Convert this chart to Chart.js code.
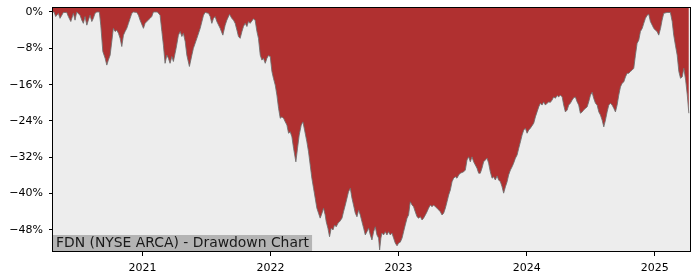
<!DOCTYPE html>
<html>
<head>
<meta charset="utf-8">
<script src="https://cdn.jsdelivr.net/npm/chart.js@4"></script>
<style>
html,body{margin:0;padding:0;background:#fff;}
#wrap{width:700px;height:280px;}
</style>
</head>
<body>
<div id="wrap"><canvas id="c" width="700" height="280"></canvas></div>
<script>
// Dates as decimal years
const dates = [
2020.302,2020.310,2020.323,2020.344,2020.357,2020.383,2020.409,2020.422,2020.441,2020.461,
2020.474,2020.487,2020.513,2020.527,2020.539,2020.552,2020.566,2020.578,2020.591,2020.605,
2020.617,2020.630,2020.644,2020.664,2020.675,2020.691,2020.709,2020.722,2020.734,2020.748,
2020.761,2020.773,2020.787,2020.800,2020.813,2020.826,2020.839,2020.852,2020.865,2020.878,
2020.891,2020.904,2020.917,2020.930,2020.956,2020.969,2020.982,2021.008,2021.021,2021.034,
2021.060,2021.073,2021.086,2021.117,2021.138,2021.152,2021.164,2021.177,2021.191,2021.203,
2021.216,2021.230,2021.242,2021.263,2021.281,2021.295,2021.308,2021.320,2021.334,2021.347,
2021.367,2021.386,2021.398,2021.425,2021.451,2021.477,2021.490,2021.516,2021.529,2021.542,
2021.555,2021.568,2021.581,2021.607,2021.628,2021.646,2021.659,2021.680,2021.698,2021.711,
2021.724,2021.738,2021.750,2021.763,2021.777,2021.789,2021.802,2021.816,2021.828,2021.841,
2021.867,2021.880,2021.894,2021.906,2021.920,2021.933,2021.945,2021.959,2021.972,2021.984,
2021.998,2022.011,2022.023,2022.037,2022.050,2022.063,2022.076,2022.089,2022.102,2022.115,
2022.128,2022.141,2022.154,2022.167,2022.180,2022.198,2022.211,2022.224,2022.240,2022.253,
2022.266,2022.284,2022.297,2022.310,2022.323,2022.336,2022.349,2022.362,2022.375,2022.388,
2022.402,2022.414,2022.427,2022.435,2022.448,2022.461,2022.474,2022.488,2022.500,2022.513,
2022.527,2022.539,2022.558,2022.570,2022.584,2022.597,2022.609,2022.623,2022.636,2022.648,
2022.662,2022.675,2022.688,2022.701,2022.714,2022.727,2022.740,2022.753,2022.766,2022.779,
2022.792,2022.805,2022.818,2022.831,2022.844,2022.852,2022.862,2022.870,2022.883,2022.896,
2022.909,2022.922,2022.935,2022.948,2022.961,2022.974,2022.988,2023.000,2023.013,2023.027,
2023.039,2023.052,2023.066,2023.078,2023.091,2023.105,2023.117,2023.130,2023.144,2023.156,
2023.170,2023.183,2023.195,2023.209,2023.222,2023.234,2023.248,2023.261,2023.273,2023.287,
2023.300,2023.313,2023.326,2023.339,2023.352,2023.365,2023.378,2023.391,2023.404,2023.417,
2023.430,2023.443,2023.456,2023.469,2023.482,2023.508,2023.521,2023.534,2023.547,2023.560,
2023.573,2023.586,2023.599,2023.612,2023.625,2023.638,2023.651,2023.664,2023.691,2023.703,
2023.716,2023.730,2023.742,2023.755,2023.769,2023.781,2023.795,2023.808,2023.820,2023.834,
2023.847,2023.859,2023.873,2023.886,2023.898,2023.912,2023.925,2023.938,2023.951,2023.964,
2023.977,2023.990,2024.003,2024.016,2024.029,2024.055,2024.068,2024.081,2024.094,2024.107,
2024.120,2024.133,2024.146,2024.159,2024.172,2024.185,2024.198,2024.211,2024.224,2024.238,
2024.250,2024.263,2024.277,2024.289,2024.302,2024.316,2024.328,2024.341,2024.355,2024.367,
2024.380,2024.394,2024.406,2024.419,2024.433,2024.445,2024.459,2024.472,2024.484,2024.498,
2024.511,2024.523,2024.537,2024.550,2024.563,2024.576,2024.589,2024.602,2024.615,2024.628,
2024.641,2024.654,2024.667,2024.680,2024.693,2024.706,2024.719,2024.732,2024.745,2024.758,
2024.771,2024.784,2024.797,2024.810,2024.823,2024.836,2024.849,2024.862,2024.875,2024.888,
2024.902,2024.914,2024.927,2024.941,2024.953,2024.966,2024.980,2024.992,2025.005,2025.018,
2025.031,2025.045,2025.057,2025.070,2025.096,2025.122,2025.136,2025.148,2025.161,2025.175,
2025.188,2025.201,2025.214,2025.227,2025.241,2025.254,2025.266
];
// Drawdown in percent
const drawdown = [
0,0,-1.0,-0.3,-1.4,-0.1,-0.1,-1.0,-2.1,-0.3,
-1.8,0,-0.7,-1.8,-2.5,-1.0,-2.9,-1.8,-0.7,-2.1,
-1.4,-0.3,0,0,-2.9,-8.7,-10.2,-11.7,-10.6,-9.5,
-6.5,-3.6,-4.3,-4.0,-4.7,-5.8,-7.6,-5.1,-4.3,-3.6,
-2.5,-1.4,-0.3,0,-0.1,-0.7,-1.8,-3.6,-2.5,-2.1,
-1.4,-1.0,0,0,-0.7,-4.3,-7.3,-11.3,-9.5,-10.2,
-11.3,-9.8,-10.9,-8.0,-5.1,-4.3,-5.4,-4.7,-6.5,-9.5,
-12.0,-9.5,-8.0,-5.8,-3.6,-0.7,-0.1,-0.3,-1.0,-2.5,
-1.4,-1.0,-2.1,-3.6,-5.1,-2.9,-1.8,-0.5,-1.4,-1.8,
-2.5,-4.0,-5.4,-5.8,-4.3,-3.2,-2.5,-3.2,-2.1,-2.5,
-1.5,-1.8,-4.3,-5.8,-9.5,-10.6,-10.2,-11.3,-10.2,-9.6,
-9.8,-13.1,-14.6,-16.1,-18.3,-21.2,-23.4,-23.1,-23.4,-24.2,
-24.9,-26.7,-26.4,-27.5,-30.0,-33.0,-30.0,-27.1,-24.9,-24.2,
-26.0,-28.6,-30.8,-33.7,-36.6,-38.8,-41.0,-43.2,-44.3,-45.4,
-44.3,-43.2,-44.7,-46.2,-47.6,-49.5,-47.6,-48.0,-46.9,-47.3,
-46.5,-46.2,-45.4,-44.0,-42.5,-41.0,-39.6,-38.8,-41.0,-42.5,
-44.3,-45.1,-43.6,-44.7,-46.2,-47.6,-49.1,-48.4,-47.6,-49.1,
-50.2,-48.4,-47.3,-49.1,-49.8,-52.4,-49.8,-48.7,-49.1,-48.4,
-49.1,-48.4,-49.1,-48.7,-49.8,-50.9,-51.5,-50.9,-50.7,-49.8,
-48.4,-46.9,-45.4,-44.7,-41.8,-42.5,-42.9,-44.0,-45.1,-45.4,
-45.1,-45.8,-45.4,-44.7,-44.0,-43.2,-42.5,-42.9,-42.5,-42.9,
-43.2,-43.6,-44.0,-44.7,-44.3,-43.2,-41.8,-40.3,-39.2,-37.4,
-36.6,-36.3,-36.6,-35.9,-35.5,-35.2,-34.8,-32.6,-31.9,-33.0,
-31.9,-33.0,-33.7,-34.4,-35.5,-35.5,-34.4,-33.0,-32.2,-33.3,
-35.2,-36.6,-36.3,-37.0,-36.1,-37.0,-37.4,-38.5,-39.9,-38.5,
-37.4,-35.9,-34.8,-34.1,-33.3,-32.2,-31.5,-30.0,-28.6,-27.1,
-26.0,-25.6,-26.7,-26.0,-25.6,-24.5,-23.1,-22.0,-20.9,-20.1,
-20.5,-19.8,-20.5,-20.1,-19.8,-19.9,-19.4,-18.7,-19.0,-18.4,
-18.7,-18.3,-18.7,-20.5,-22.0,-21.6,-20.5,-20.1,-19.4,-18.9,
-18.7,-19.8,-20.5,-22.3,-22.0,-21.6,-21.2,-20.9,-19.8,-18.3,
-17.7,-19.0,-20.1,-20.5,-22.0,-22.7,-23.8,-25.3,-23.8,-22.0,
-20.5,-20.1,-20.5,-21.2,-22.0,-20.5,-18.3,-16.5,-15.7,-15.4,
-14.3,-13.5,-13.5,-13.1,-12.8,-12.4,-9.5,-6.9,-6.2,-4.3,
-3.6,-2.5,-1.4,-0.7,-0.5,-2.1,-2.9,-3.6,-4.0,-4.3,
-5.1,-3.6,-1.8,-0.3,-0.1,-0.1,-2.1,-5.1,-7.3,-9.5,
-13.1,-14.6,-14.3,-12.4,-15.0,-18.3,-22.3
];
const yTicks = [0,-8,-16,-24,-32,-40,-48];
const xTickYears = [2021,2022,2023,2024,2025];
const chartLabel = 'FDN (NYSE ARCA) - Drawdown Chart';

const points = dates.map((d,i)=>({x:d,y:drawdown[i]}));

const bgPlugin = {
  id:'bg',
  beforeDraw(chart){
    const {ctx, chartArea:a} = chart;
    ctx.save();
    ctx.fillStyle = '#ededed';
    ctx.fillRect(a.left, a.top, a.right-a.left, a.bottom-a.top);
    ctx.restore();
  },
  afterDatasetsDraw(chart){
    const {ctx, chartArea:a} = chart;
    ctx.save();
    ctx.font = '13.9px "DejaVu Sans"';
    const w = ctx.measureText(chartLabel).width;
    ctx.fillStyle = '#b4b4b4';
    ctx.fillRect(a.left, a.bottom-17, w+6, 17);
    ctx.fillStyle = '#1a1a1a';
    ctx.textBaseline = 'alphabetic';
    ctx.fillText(chartLabel, a.left+3, a.bottom-5.5);
    ctx.restore();
  },
  afterDraw(chart){
    const {ctx, chartArea:a} = chart;
    ctx.save();
    ctx.strokeStyle = '#000';
    ctx.lineWidth = 1;
    ctx.strokeRect(Math.round(a.left)-0.5, Math.round(a.top)+0.5, Math.round(a.right-a.left)+1, Math.round(a.bottom-a.top)-1);
    ctx.restore();
  }
};

new Chart(document.getElementById('c'), {
  type:'line',
  data:{datasets:[{
    data:points,
    fill:'end',
    backgroundColor:'#b03030',
    borderColor:'rgba(110,110,110,0.85)',
    borderWidth:1,
    pointRadius:0,
    tension:0
  }]},
  options:{
    responsive:false,
    animation:false,
    events:[],
    layout:{padding:{left:0,right:10,top:7,bottom:0}},
    plugins:{legend:{display:false},tooltip:{enabled:false}},
    scales:{
      x:{
        type:'linear',
        min:2020.302,
        max:2025.275,
        afterBuildTicks(s){ s.ticks = xTickYears.map(v=>({value:v})); },
        afterFit(s){ s.height = 28; s.paddingLeft = 0; s.paddingRight = 0; },
        grid:{drawOnChartArea:false, drawTicks:true, tickLength:4, color:'#000', lineWidth:1},
        border:{display:false},
        ticks:{color:'#000', padding:6, maxRotation:0, autoSkip:false,
          font:{family:'DejaVu Sans', size:11},
          callback:v=>String(v)}
      },
      y:{
        type:'linear',
        min:-52.86,
        max:1.1,
        afterBuildTicks(s){ s.ticks = yTicks.map(v=>({value:v})); },
        afterFit(s){ s.width = 53; s.paddingTop = 0; s.paddingBottom = 0; },
        grid:{drawOnChartArea:false, drawTicks:true, tickLength:4, color:'#000', lineWidth:1},
        border:{display:false},
        ticks:{color:'#000', padding:6, autoSkip:false,
          font:{family:'DejaVu Sans', size:11},
          callback:v=> v===0 ? '0%' : '\u2212'+Math.abs(v)+'%'}
      }
    }
  },
  plugins:[bgPlugin]
});
</script>
</body>
</html>
